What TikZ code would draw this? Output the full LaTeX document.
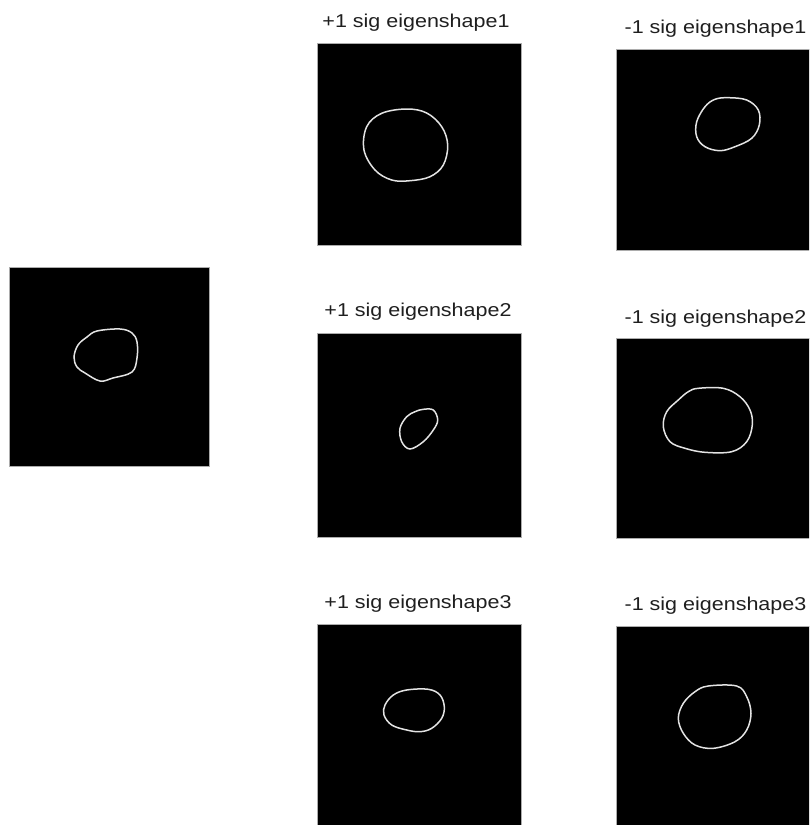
\documentclass[tikz,border=0pt]{standalone}
\usepackage{fontspec}
\setmainfont{Liberation Sans}
\begin{document}
\begin{tikzpicture}[x=1pt,y=-1pt,
  panel/.style={draw=gray!65,line width=1pt,fill=black,inner sep=0pt,outer sep=0pt},
  contour/.style={draw=white!78!gray,line width=1.5pt},
  lab/.style={anchor=base,inner sep=0pt,text=black!88,font=\fontsize{18.6}{20}\selectfont}]
\useasboundingbox (0,0) rectangle (809,825);
\clip (0,0) rectangle (809,825);
\fill[white] (0,0) rectangle (809,825);
% panels
\node[panel,minimum width=200pt,minimum height=199pt] (orig) at (109,366.5) {};
\node[panel,minimum width=204pt,minimum height=202pt] (p1) at (419,144) {};
\node[panel,minimum width=204pt,minimum height=201pt] (m1) at (718,149.5) {};
\node[panel,minimum width=204pt,minimum height=204pt] (p2) at (419,435) {};
\node[panel,minimum width=204pt,minimum height=200pt] (m2) at (718,438) {};
\node[panel,minimum width=204pt,minimum height=202pt] (p3) at (419,725) {};
\node[panel,minimum width=204pt,minimum height=201pt] (m3) at (718,726.5) {};
% labels
\node[lab] (lp1) at (416,27.7) {\scalebox{1.156}[1]{+1 sig eigenshape1}};
\node[lab] (lm1) at (715.5,33) {\scalebox{1.156}[1]{-1 sig eigenshape1}};
\node[lab] (lp2) at (418,316.7) {\scalebox{1.156}[1]{+1 sig eigenshape2}};
\node[lab] (lm2) at (715.5,323) {\scalebox{1.156}[1]{-1 sig eigenshape2}};
\node[lab] (lp3) at (418,608) {\scalebox{1.156}[1]{+1 sig eigenshape3}};
\node[lab] (lm3) at (715.5,610) {\scalebox{1.156}[1]{-1 sig eigenshape3}};
% contours
\draw[contour] plot[smooth cycle,tension=0.6] coordinates {(97,331) (120,329) (132,333) (137,342) (137,358) (132,372) (113,378) (100,381) (85,373) (77,367) (74,357) (78,345) (87,337)};
\draw[contour] plot[smooth cycle,tension=0.6] coordinates {(406.7,109) (426.7,113) (441.7,126.7) (447.7,145) (443.3,165) (430,176.7) (410,180.7) (391.7,180) (375,170) (364,150) (366.7,126.7) (381.7,113.3)};
\draw[contour] plot[smooth cycle,tension=0.6] coordinates {(728.3,97.7) (746.7,100) (758.3,110) (759.3,125) (751.7,138.3) (735,146.7) (720,150.7) (705,146.7) (696.7,136.7) (696.7,121.7) (705,106.7) (715,99.3)};
\draw[contour] plot[smooth cycle,tension=0.6] coordinates {(423.3,409.3) (433.3,410) (437.7,420) (433.3,430) (423.3,441.7) (410,449) (401.7,441.7) (400,428.3) (406.7,416.7) (415,411.7)};
\draw[contour] plot[smooth cycle,tension=0.6] coordinates {(698.3,388.3) (723.3,388.3) (740,396.7) (750,410) (752.3,425) (746.7,441.7) (731.7,451.7) (705,452.3) (685,448.3) (670,441.7) (663.3,426.7) (666.7,411.7) (678.3,400) (688.3,391.7)};
\draw[contour] plot[smooth cycle,tension=0.6] coordinates {(406.7,690) (428.3,689.3) (440,695) (444.3,706.7) (441.7,718.3) (431.7,728.3) (420,731.7) (406.7,730) (391.7,725) (384,715) (385,705) (393.3,695)};
\draw[contour] plot[smooth cycle,tension=0.6] coordinates {(708.3,686) (736.7,686) (746.7,696.7) (751,713.3) (746.7,730) (735,741.7) (713.3,748.3) (695,745) (683.3,733.3) (678.3,718.3) (683.3,703.3) (695,691.7)};
\end{tikzpicture}
\end{document}
